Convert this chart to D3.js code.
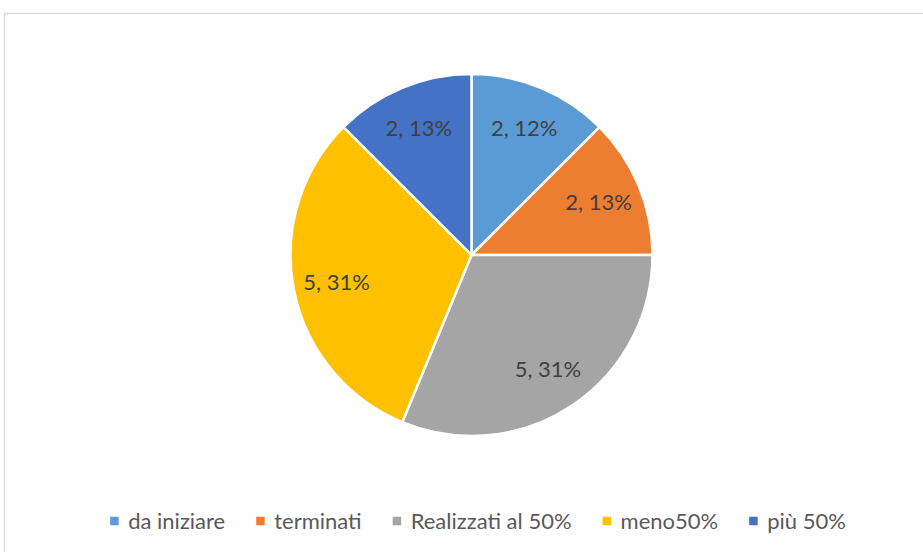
<!DOCTYPE html>
<html><head><meta charset="utf-8">
<script src="https://cdn.jsdelivr.net/npm/d3@7"></script>
<style>body{margin:0;background:#fff;}svg{display:block;}</style>
</head><body>
<svg id="c" width="923" height="552"></svg>
<script>
const categories = ["da iniziare", "terminati", "Realizzati al 50%", "meno50%", "più 50%"];
const values = [2, 2, 5, 5, 2];
const percentLabels = ["12%", "13%", "31%", "31%", "13%"];
const colors = ["#5B9BD5", "#ED7D31", "#A5A5A5", "#FFC000", "#4472C4"];

const svg = d3.select("#c");
const W = 923, H = 552;
const font = "Lato, 'Noto Sans', sans-serif";

svg.append("rect").attr("x", 4.5).attr("y", 13.5).attr("width", W + 10).attr("height", H + 10)
  .attr("fill", "#fff").attr("stroke", "#D9D9D9").attr("stroke-width", 1.5);

const cx = 471.5, cy = 255, r = 181;
const pie = d3.pie().sort(null).value(d => d)(values);
const arc = d3.arc().innerRadius(0).outerRadius(r);
const labelArc = d3.arc().innerRadius(r * 0.76).outerRadius(r * 0.76);

const g = svg.append("g").attr("transform", `translate(${cx},${cy})`);
g.selectAll("path").data(pie).join("path")
  .attr("d", arc).attr("fill", (d, i) => colors[i])
  .attr("stroke", "#fff").attr("stroke-width", 2.5).attr("stroke-linejoin", "round");

g.selectAll("text").data(pie).join("text")
  .attr("transform", d => `translate(${labelArc.centroid(d)})`)
  .attr("text-anchor", "middle").attr("dy", "0.35em")
  .attr("font-family", font).attr("font-size", 22).attr("fill", "#404040")
  .text((d, i) => `${values[i]}, ${percentLabels[i]}`);

// legend
const lg = svg.append("g");
const items = lg.selectAll("g").data(categories).join("g");
items.append("rect").attr("width", 8.5).attr("height", 8.5).attr("y", -4.25)
  .attr("fill", (d, i) => colors[i]);
const txt = items.append("text").attr("x", 18).attr("y", 7.5)
  .attr("font-family", font).attr("font-size", 22).attr("fill", "#595959").text(d => d);
const gap = 31;
let widths = [];
txt.each(function () { widths.push(18 + this.getComputedTextLength()); });
const total = d3.sum(widths) + gap * (widths.length - 1);
let x = 478 - total / 2;
items.each(function (d, i) {
  d3.select(this).attr("transform", `translate(${x},521)`);
  x += widths[i] + gap;
});
</script>
</body></html>
